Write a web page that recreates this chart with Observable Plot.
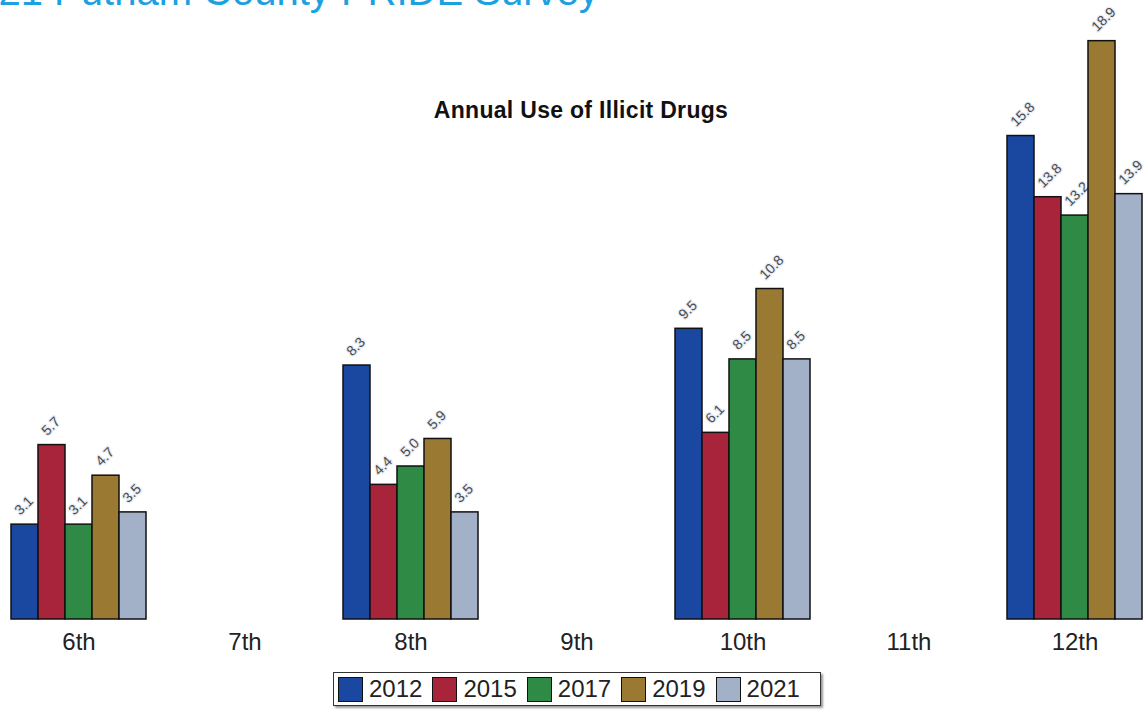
<!DOCTYPE html>
<html>
<head>
<meta charset="utf-8">
<script src="https://cdn.jsdelivr.net/npm/d3@7"></script>
<script src="https://cdn.jsdelivr.net/npm/@observablehq/plot@0.6"></script>
<style>
  html, body { margin: 0; padding: 0; background: #fff; }
  #wrap { position: relative; width: 1148px; height: 713px; overflow: hidden; font-family: Arial, "Liberation Sans", sans-serif; }
  #pagetitle { position: absolute; left: -46px; top: -29px; font-size: 40px; line-height: 40px; color: #1ba1e2; white-space: nowrap; }
  #charttitle { position: absolute; left: 0; width: 1162px; top: 97px; text-align: center; font-size: 23px; letter-spacing: 0.3px; font-weight: bold; color: #111; }
  #chart { position: absolute; left: 0; top: 0; }
  #legend { position: absolute; left: 333px; top: 672px; width: 486px; height: 32px; border: 1.5px solid #333; box-shadow: 2px 2px 2px #999; background: #fff; display: flex; align-items: center; }
  .item { display: flex; align-items: center; margin-left: 4px; margin-right: 6px; }
  .sw { width: 23px; height: 23px; border: 1.5px solid #111; margin-right: 6px; }
  .lab { font-size: 24px; color: #222; }
</style>
</head>
<body>
<div id="wrap">
  <div id="pagetitle">2021 Putnam County PRIDE Survey</div>
  <div id="chart"></div>
  <div id="charttitle">Annual Use of Illicit Drugs</div>
  <div id="legend"></div>
</div>
<script>
// Categories
const grades = ["6th", "7th", "8th", "9th", "10th", "11th", "12th"];
const dataGrades = ["6th", "8th", "10th", "12th"];
const years = ["2012", "2015", "2017", "2019", "2021"];
const colors = ["#1a47a0", "#a8243a", "#2f8a45", "#9a7a33", "#a3b1c8"];

// Series values (percent), per data grade
const v2012 = [3.1, 8.3, 9.5, 15.8];
const v2015 = [5.7, 4.4, 6.1, 13.8];
const v2017 = [3.1, 5.0, 8.5, 13.2];
const v2019 = [4.7, 5.9, 10.8, 18.9];
const v2021 = [3.5, 3.5, 8.5, 13.9];

const series = [v2012, v2015, v2017, v2019, v2021];
const data = [];
dataGrades.forEach((g, i) => {
  years.forEach((y, j) => {
    data.push({grade: g, year: y, value: series[j][i]});
  });
});

const chart = Plot.plot({
  width: 1148,
  height: 662,
  marginLeft: 0,
  marginRight: 0,
  marginTop: 0,
  marginBottom: 43,
  style: {fontFamily: "Arial, 'Liberation Sans', sans-serif", background: "transparent", overflow: "visible"},
  fx: {domain: grades, range: [-4.5, 1158], paddingInner: 0.163, paddingOuter: 0.0815, label: null},
  x: {domain: years, padding: 0, axis: null},
  y: {domain: [0, 20], range: [619, 7], axis: null},
  color: {domain: years, range: colors},
  marks: [
    Plot.axisFx({anchor: "bottom", tickSize: 0, tickPadding: 13, fontSize: 24, color: "#222", label: null}),
    Plot.text(data, {
      fx: "grade", x: "year", y: "value",
      text: d => d.value.toFixed(1),
      rotate: -45, textAnchor: "start", lineAnchor: "middle",
      dx: -8, dy: -12,
      fontSize: 14, fill: "#4a4a4a", stroke: "#e8ecf4", strokeWidth: 2.5, paintOrder: "stroke"
    }),
    Plot.barY(data, {
      fx: "grade", x: "year", y: "value", fill: "year",
      stroke: "#111", strokeWidth: 1.5, inset: 0
    })
  ]
});
document.getElementById("chart").appendChild(chart);

// Legend
const legend = document.getElementById("legend");
years.forEach((y, j) => {
  const it = document.createElement("div");
  it.className = "item";
  const sw = document.createElement("div");
  sw.className = "sw";
  sw.style.background = colors[j];
  const lab = document.createElement("span");
  lab.className = "lab";
  lab.textContent = y;
  it.appendChild(sw);
  it.appendChild(lab);
  legend.appendChild(it);
});
</script>
</body>
</html>
